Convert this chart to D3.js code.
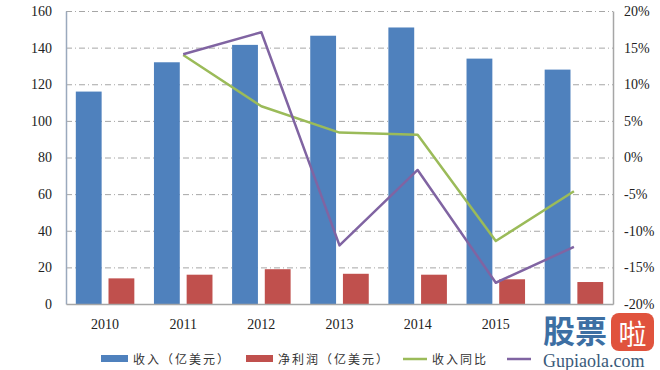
<!DOCTYPE html>
<html>
<head>
<meta charset="utf-8">
<script src="https://cdn.jsdelivr.net/npm/d3@7"></script>
<style>
  body { margin: 0; background: #fff; }
  #chart { width: 660px; height: 370px; }
</style>
</head>
<body>
<div id="chart"></div>
<script>
// data
var years = ["2010", "2011", "2012", "2013", "2014", "2015", "2016"];
var revenue = [116, 132, 141.5, 146.5, 151, 134, 128];        // 收入（亿美元）
var netProfit = [14, 16, 19, 16.5, 16, 13.5, 12];             // 净利润（亿美元）
var revenueYoY = [null, 14.0, 7.0, 3.4, 3.1, -11.4, -4.6];     // 收入同比 %
var profitYoY = [null, 14.1, 17.1, -12.0, -1.7, -17.1, -12.2]; // 净利润同比 %
var leftTicks = [0, 20, 40, 60, 80, 100, 120, 140, 160];
var rightTicks = [-20, -15, -10, -5, 0, 5, 10, 15, 20];
var legendNames = ["收入（亿美元）", "净利润（亿美元）", "收入同比", "净利润同比"];
// the last year label and last legend label sit under the watermark in the picture
var hiddenYears = ["2016"];

var blue = "#4f81bd", red = "#c0504d", green = "#9bbb59", purple = "#8064a2";

var width = 660, height = 370;
var margin = { left: 66, right: 47, top: 11, bottom: 66 };
var chartWidth = width - margin.left - margin.right;
var chartHeight = height - margin.top - margin.bottom;

var svg = d3.select("#chart").append("svg")
  .attr("width", width)
  .attr("height", height);

var g = svg.append("g")
  .attr("transform", "translate(" + margin.left + "," + margin.top + ")");

var x0 = d3.scaleBand().domain(years).range([0, chartWidth]).padding(0);
var x1 = d3.scaleBand().domain(["rev", "np"]).range([0, x0.bandwidth()])
  .paddingInner(0.21).paddingOuter(0.3);
var yL = d3.scaleLinear().domain([0, 160]).range([chartHeight, 0]);
var yR = d3.scaleLinear().domain([-20, 20]).range([chartHeight, 0]);

// gridlines
g.append("g").selectAll("line")
  .data(leftTicks.filter(function (d) { return d > 0; }))
  .join("line")
  .attr("x1", 0).attr("x2", chartWidth)
  .attr("y1", function (d) { return yL(d) + 0.5; })
  .attr("y2", function (d) { return yL(d) + 0.5; })
  .attr("stroke", "#a6a6a6")
  .attr("stroke-width", 1)
  .attr("stroke-dasharray", "6,3,1,3");

// bars
g.append("g").selectAll("rect")
  .data(revenue)
  .join("rect")
  .attr("x", function (d, i) { return x0(years[i]) + x1("rev"); })
  .attr("width", x1.bandwidth())
  .attr("y", function (d) { return yL(d); })
  .attr("height", function (d) { return chartHeight - yL(d); })
  .attr("fill", blue);

g.append("g").selectAll("rect")
  .data(netProfit)
  .join("rect")
  .attr("x", function (d, i) { return x0(years[i]) + x1("np"); })
  .attr("width", x1.bandwidth())
  .attr("y", function (d) { return yL(d); })
  .attr("height", function (d) { return chartHeight - yL(d); })
  .attr("fill", red);

// lines
var line = d3.line()
  .defined(function (d) { return d != null; })
  .x(function (d, i) { return x0(years[i]) + x0.bandwidth() / 2; })
  .y(function (d) { return yR(d); });

g.append("path").datum(revenueYoY)
  .attr("d", line)
  .attr("fill", "none")
  .attr("stroke", green)
  .attr("stroke-width", 2.5)
  .attr("stroke-linejoin", "round");

g.append("path").datum(profitYoY)
  .attr("d", line)
  .attr("fill", "none")
  .attr("stroke", purple)
  .attr("stroke-width", 2.5)
  .attr("stroke-linejoin", "round");

// axes
var axisColor = "#9aa9bd";
var leftAxis = g.append("g")
  .call(d3.axisLeft(yL).tickValues(leftTicks).tickSize(0).tickPadding(14));
var rightAxis = g.append("g")
  .attr("transform", "translate(" + chartWidth + ",0)")
  .call(d3.axisRight(yR).tickValues(rightTicks).tickSize(0).tickPadding(11)
    .tickFormat(function (d) { return d + "%"; }));
var bottomAxis = g.append("g")
  .attr("transform", "translate(0," + chartHeight + ")")
  .call(d3.axisBottom(x0).tickSize(0).tickPadding(15)
    .tickFormat(function (d) { return hiddenYears.indexOf(d) >= 0 ? "" : d; }));

leftAxis.select(".domain").attr("stroke", axisColor).attr("stroke-width", 1.5);
rightAxis.select(".domain").attr("stroke", "#a6a6a6").attr("stroke-width", 1.5);
bottomAxis.select(".domain").attr("stroke", "#a6a6a6").attr("stroke-width", 1.5);

svg.selectAll(".tick text")
  .attr("font-family", "'Liberation Serif', 'DejaVu Serif', serif")
  .attr("font-size", 14)
  .attr("fill", "#222");

// legend
var legendX = [101, 246, 403, 507];
var legendFont = "'Noto Sans CJK SC', sans-serif";
var legend = svg.append("g").attr("transform", "translate(0,359)");
legendNames.forEach(function (name, i) {
  var item = legend.append("g").attr("transform", "translate(" + legendX[i] + ",0)");
  if (i < 2) {
    item.append("rect")
      .attr("x", 0).attr("y", -4).attr("width", 27).attr("height", 7)
      .attr("fill", i == 0 ? blue : red);
  } else {
    item.append("line")
      .attr("x1", 0).attr("x2", 24).attr("y1", 0).attr("y2", 0)
      .attr("stroke", i == 2 ? green : purple)
      .attr("stroke-width", 2.5);
  }
  // the fourth label is covered by the watermark
  if (i < 3) {
    item.append("text")
      .attr("x", i < 2 ? 32 : 29)
      .attr("y", 4.5)
      .attr("font-family", legendFont)
      .attr("font-size", 12)
      .attr("letter-spacing", 2)
      .attr("fill", "#333")
      .text(name);
  }
});

// watermark
var wm = svg.append("g");
wm.append("rect")
  .attr("x", 536).attr("y", 311).attr("width", 124).attr("height", 59)
  .attr("fill", "#fff");
wm.append("text")
  .attr("x", 543).attr("y", 343)
  .attr("font-family", legendFont)
  .attr("font-size", 32)
  .attr("font-weight", "bold")
  .attr("fill", "#3d6fa3")
  .text("股票");
wm.append("rect")
  .attr("x", 611).attr("y", 313).attr("width", 43).attr("height", 38)
  .attr("rx", 8)
  .attr("fill", "#e0533d");
wm.append("text")
  .attr("x", 632.5).attr("y", 345)
  .attr("text-anchor", "middle")
  .attr("font-family", legendFont)
  .attr("font-size", 28)
  .attr("fill", "#fff")
  .text("啦");
wm.append("text")
  .attr("x", 543).attr("y", 367)
  .attr("font-family", "'Liberation Serif', serif")
  .attr("font-size", 18)
  .attr("fill", "#3a5a7a")
  .text("Gupiaola.com");
</script>
</body>
</html>
